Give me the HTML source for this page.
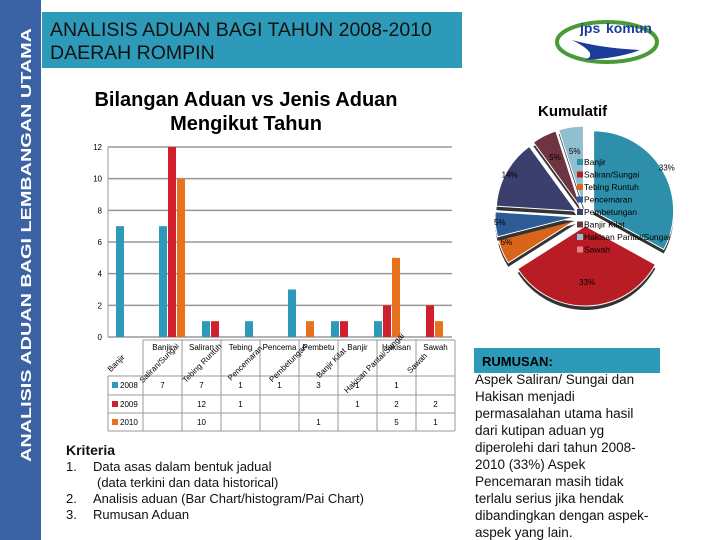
<!DOCTYPE html>
<html><head><meta charset="utf-8"><style>
html,body{margin:0;padding:0;background:#fff;}
svg{display:block;font-family:"Liberation Sans",sans-serif;}
</style></head><body>
<svg id="s" width="720" height="540" viewBox="0 0 720 540">
<rect x="0" y="0" width="41" height="540" fill="#3a62a4"/>
<text transform="translate(31,462) rotate(-90)" font-size="15" font-weight="bold" fill="#fff" textLength="434" lengthAdjust="spacingAndGlyphs">ANALISIS ADUAN BAGI LEMBANGAN UTAMA</text>
<rect x="42" y="12" width="420" height="56" fill="#2e9ab9"/>
<text x="50" y="36" font-size="19.5" fill="#111">ANALISIS ADUAN BAGI TAHUN 2008-2010</text>
<text x="50" y="59" font-size="19.5" fill="#111">DAERAH ROMPIN</text>
<g>
<ellipse cx="607" cy="42" rx="50" ry="20" fill="none" stroke="#4a9a3a" stroke-width="4"/>
<path d="M572 40 Q600 48 640 50 Q620 58 585 60 Q600 54 572 40Z" fill="#1b3c9a"/>
<text x="580" y="33" font-size="14" font-weight="bold" fill="#1b3c9a">jps</text>
<text x="606" y="33" font-size="14" font-weight="bold" fill="#1b3c9a">komun</text>
</g>
<text x="246" y="106" text-anchor="middle" font-size="20" font-weight="bold">Bilangan Aduan vs Jenis Aduan</text>
<text x="246" y="130" text-anchor="middle" font-size="20" font-weight="bold">Mengikut Tahun</text>
<g id="bars"></g>
<g id="table"></g>
<text x="538" y="116" font-size="15" font-weight="bold">Kumulatif</text>
<g id="pie"></g>
<g id="plegend"></g>
<g font-size="13" fill="#111">
<text x="66" y="455" font-weight="bold" font-size="14">Kriteria</text>
<text x="66" y="471">1.</text><text x="93" y="471">Data asas dalam bentuk jadual</text>
<text x="97" y="487">(data terkini dan data historical)</text>
<text x="66" y="503">2.</text><text x="93" y="503">Analisis aduan (Bar Chart/histogram/Pai Chart)</text>
<text x="66" y="519">3.</text><text x="93" y="519">Rumusan Aduan</text>
</g>
<rect x="474" y="348" width="186" height="25" fill="#2e9ab9"/>
<text x="482" y="366" font-size="13" font-weight="bold">RUMUSAN:</text>
<g font-size="13.5" fill="#111">
<text x="475" y="384">Aspek Saliran/ Sungai dan</text>
<text x="475" y="401">Hakisan menjadi</text>
<text x="475" y="418">permasalahan utama hasil</text>
<text x="475" y="435">dari kutipan aduan yg</text>
<text x="475" y="452">diperolehi dari tahun 2008-</text>
<text x="475" y="469">2010 (33%) Aspek</text>
<text x="475" y="486">Pencemaran masih tidak</text>
<text x="475" y="503">terlalu serius jika hendak</text>
<text x="475" y="520">dibandingkan dengan aspek-</text>
<text x="475" y="537">aspek yang lain.</text>
</g>
</svg>
<script>
const categories=["Banjir","Saliran/Sungai","Tebing Runtuh","Pencemaran","Pembetungan","Banjir Kilat","Hakisan Pantai/Sungai","Sawah"];
const years=["2008","2009","2010"];
const v2008=[7,7,1,1,3,1,1,0];
const v2009=[0,12,1,0,0,1,2,2];
const v2010=[0,10,0,0,1,0,5,1];
const yTicks=[0,2,4,6,8,10,12];
const pieLabels=["Banjir","Saliran/Sungai","Tebing Runtuh","Pencemaran","Pembetungan","Banjir Kilat","Hakisan Pantai/Sungai","Sawah"];
const pieValues=[33,33,5,5,14,5,5,0];
const NS="http://www.w3.org/2000/svg";
const colors=["#2e9ab9","#d0202e","#e8711e"];
const pieColors=["#2e8fab","#b81c25","#d9651a","#2c5b96","#3b3f6e","#6e3441","#8fbfd1","#e88080"];
function mk(t,a,p){const e=document.createElementNS(NS,t);for(const k in a)e.setAttribute(k,a[k]);p.appendChild(e);return e;}
const X0=108,X1=452,Y0=337,Y1=147,ymax=12;
const y=v=>Y0-(v/ymax)*(Y0-Y1);
const gw=(X1-X0)/categories.length;
const gx=i=>X0+gw*i;
const bars=document.getElementById('bars');
yTicks.forEach(t=>{
 const l=mk('line',{x1:X0,x2:X1,y1:y(t),y2:y(t),stroke:'#999','stroke-width':1.5},bars);
 
 
 const tx=mk('text',{x:X0-6,y:y(t)+3,'text-anchor':'end','font-size':8},bars);
 tx.textContent=t;
 
 
});
mk('line',{x1:X0,x2:X0,y1:Y1,y2:Y0,stroke:'#999'},bars);
const series=[v2008,v2009,v2010];
series.forEach((s,si)=>{
 s.forEach((v,i)=>{
  if(!v)return;
  const r=mk('rect',{x:gx(i)+8+si*9,y:y(v),width:8,height:Y0-y(v),fill:colors[si]},bars);
  
  
 });
});
const tb=document.getElementById('table');
const TX0=108,TC=143,cw=39,rows=[340,376,395,413,431];
const tcol=i=>TC+cw*i;
mk('line',{x1:TC,x2:tcol(8),y1:rows[0],y2:rows[0],stroke:'#999'},tb);
for(let r=1;r<rows.length;r++)mk('line',{x1:TX0,x2:tcol(8),y1:rows[r],y2:rows[r],stroke:'#999'},tb);
mk('line',{x1:TX0,x2:TX0,y1:rows[1],y2:rows[4],stroke:'#999'},tb);
for(let i=0;i<=8;i++)mk('line',{x1:tcol(i),x2:tcol(i),y1:rows[0],y2:rows[4],stroke:'#999'},tb);
categories.forEach((c,i)=>{
 const t=mk('text',{x:tcol(i)+cw/2,y:350,'text-anchor':'middle','font-size':8},tb);
 t.textContent=c.length>7?c.slice(0,7):c;
 
 
 const rt=mk('text',{transform:`translate(${gx(i)+10},${365}) rotate(-45)`,'font-size':8,'text-anchor':'middle'},tb);
 rt.textContent=c;
 
 
});
series.forEach((s,si)=>{
 const ry=rows[si+1]+12;
 mk('rect',{x:112,y:ry-6,width:6,height:6,fill:colors[si]},tb);
 const lt=mk('text',{x:120,y:ry,'font-size':8},tb);lt.textContent=years[si];
 
 
 s.forEach((v,i)=>{
  if(!v)return;
  const t=mk('text',{x:tcol(i)+cw/2,y:ry,'text-anchor':'middle','font-size':8},tb);
  t.textContent=v;
  
  
 });
});
const pie=document.getElementById('pie');
const cx=585,cy=216,R=80;
const total=pieValues.reduce((a,b)=>a+b,0);
let a0=0;
pieValues.forEach((v,i)=>{
 if(!v)return;
 const a1=a0+v/total*2*Math.PI;
 const mid=(a0+a1)/2,ex=10;
 const ox=cx+ex*Math.sin(mid),oy=cy-ex*Math.cos(mid);
 const p=(a)=>[ox+R*Math.sin(a),oy-R*Math.cos(a)];
 const [x0,y0]=p(a0),[x1,y1]=p(a1);
 const large=(a1-a0)>Math.PI?1:0;
 mk('path',{d:`M${ox} ${oy+4}L${x0} ${y0+4}A${R} ${R} 0 ${large} 1 ${x1} ${y1+4}Z`,fill:'#333'},pie);
 const s=mk('path',{d:`M${ox} ${oy}L${x0} ${y0}A${R} ${R} 0 ${large} 1 ${x1} ${y1}Z`,fill:pieColors[i],stroke:'#fff','stroke-width':1},pie);
 
 
 const lr=i===0?R+5:(i===4?R*0.95:R*0.7);
 const t=mk('text',{x:ox+lr*Math.sin(mid)*(i>1&&i<4?1.35:1),y:oy-lr*Math.cos(mid)+3,'text-anchor':'middle','font-size':8},pie);
 t.textContent=v+'%';
 
 
 a0=a1;
});
const pl=document.getElementById('plegend');
pieLabels.forEach((l,i)=>{
 const yy=165+i*12.5;
 mk('rect',{x:577,y:yy-6,width:6,height:6,fill:pieColors[i]},pl);
 const t=mk('text',{x:584,y:yy,'font-size':8.5},pl);t.textContent=l;
 
 
});
</script>
</body></html>
